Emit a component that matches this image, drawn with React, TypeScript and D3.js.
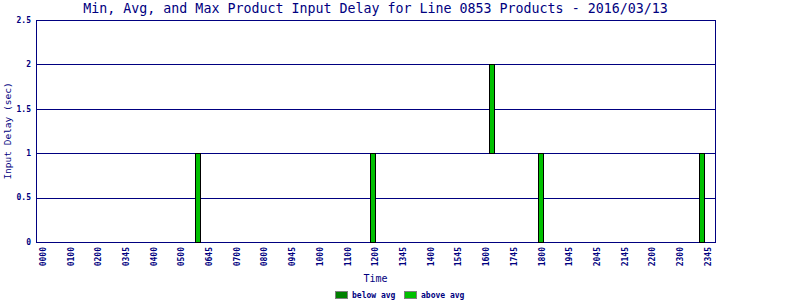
import React from "react";
import * as d3 from "d3";

const titleText = "Min, Avg, and Max Product Input Delay for Line 0853 Products - 2016/03/13";
const xTickLabels = [
  "0000", "0100", "0200", "0345", "0400", "0500", "0645", "0700", "0800", "0945",
  "1000", "1100", "1200", "1345", "1400", "1545", "1600", "1745", "1800", "1945",
  "2045", "2145", "2200", "2300", "2345",
];
const yTicks = [0, 0.5, 1, 1.5, 2, 2.5];
// bar positions along the category axis (label index units)
const barSlots = [5.59, 11.91, 16.2, 17.97, 23.77];
const minValues = [0, 0, 1, 0, 0];
const avgValues = [0, 0, 1, 0, 0];
const maxValues = [1, 1, 2, 1, 1];
const legendLabels = ["below avg", "above avg"];
const legendColors = ["#008000", "#00c000"];

const NAVY = "#000080";
const MONO = "'DejaVu Sans Mono', monospace";

export default function App() {
  const W = 800, H = 300;
  const left = 36, right = 715, top = 20, bottom = 242;
  const x = d3.scaleLinear().domain([0, xTickLabels.length - 1]).range([43, 708]);
  const y = d3.scaleLinear().domain([0, 2.5]).range([bottom, top]);
  const barW = 5;

  return (
    <svg width={W} height={H} style={{ position: "absolute", left: 0, top: 0, background: "#fff" }}
      shapeRendering="crispEdges">
      <rect x={0} y={0} width={W} height={H} fill="#fff" />
      <text x={(left + right) / 2} y={13} textAnchor="middle" fontFamily={MONO} fontSize={13.3} fill={NAVY}>
        {titleText}
      </text>
      {yTicks.map((t) => (
        <g key={t}>
          <line x1={left} x2={right} y1={Math.round(y(t)) + 0.5} y2={Math.round(y(t)) + 0.5} stroke={NAVY} />
          <text x={31} y={y(t)} dy="0.35em" textAnchor="end" fontFamily={MONO} fontSize={8} fontWeight="bold" fill={NAVY}>
            {d3.format("~g")(t)}
          </text>
        </g>
      ))}
      <rect x={left + 0.5} y={top + 0.5} width={right - left} height={bottom - top} fill="none" stroke={NAVY} />
      {barSlots.map((s, i) => {
        const cx = Math.round(x(s));
        const yMin = y(minValues[i]);
        const yAvg = y(avgValues[i]);
        const yMax = y(maxValues[i]);
        return (
          <g key={i}>
            {yMin - yAvg > 0 && (
              <rect x={cx - 2.5} y={Math.round(yAvg) + 0.5} width={barW} height={Math.round(yMin - yAvg)}
                fill={legendColors[0]} stroke="#000" />
            )}
            {yAvg - yMax > 0 && (
              <rect x={cx - 2.5} y={Math.round(yMax) + 0.5} width={barW} height={Math.round(yAvg - yMax)}
                fill={legendColors[1]} stroke="#000" />
            )}
          </g>
        );
      })}
      {xTickLabels.map((l, i) => (
        <text key={l} transform={`translate(${x(i)},247) rotate(-90)`} dy="0.35em" textAnchor="end"
          fontFamily={MONO} fontSize={8} fontWeight="bold" fill={NAVY}>
          {l}
        </text>
      ))}
      <text x={(left + right) / 2} y={282} textAnchor="middle" fontFamily={MONO} fontSize={10} fill={NAVY}>
        Time
      </text>
      <text transform={`translate(8,131) rotate(-90)`} dy="0.35em" textAnchor="middle" fontFamily={MONO} fontSize={9.5} fill={NAVY}>
        Input Delay (sec)
      </text>
      {legendLabels.map((l, i) => {
        const lx = 335 + i * 69;
        return (
          <g key={l}>
            <rect x={lx + 0.5} y={291.5} width={12} height={7} fill={legendColors[i]} stroke="#808080" />
            <text x={lx + 17} y={298} fontFamily={MONO} fontSize={8} fontWeight="bold" fill={NAVY}>
              {l}
            </text>
          </g>
        );
      })}
    </svg>
  );
}
